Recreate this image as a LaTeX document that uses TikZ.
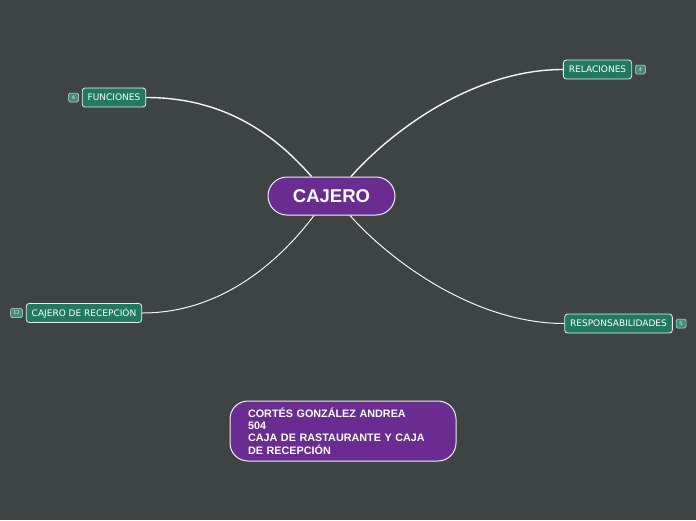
\documentclass[tikz,border=0pt]{standalone}
\usepackage{fontspec}
\setmainfont{Liberation Sans}
\newfontfamily\ramafont{DejaVu Sans}
\usetikzlibrary{positioning}
\definecolor{fondo}{HTML}{3D4443}
\definecolor{verde}{HTML}{217A5F}
\definecolor{morado}{HTML}{6A2C91}
\tikzset{
	rama/.style={draw=white!85!gray, fill=verde, rounded corners=3pt, line width=0.8pt, inner ysep=0pt, inner xsep=5.5pt, minimum height=19pt, text=white, font=\ramafont\fontsize{9}{9}\selectfont},
	contador/.style={draw=white!70!gray, fill=verde!85!white, rounded corners=1.5pt, line width=0.5pt, minimum height=9pt, minimum width=10pt, inner sep=1pt, text=white!85!verde, font=\ramafont\fontsize{5}{5}\selectfont},
	enlace/.style={white!92!gray, line width=1.4pt},
	enlacefino/.style={white!92!gray, line width=1pt},
}
\begin{document}
\begin{tikzpicture}[x=1pt,y=-1pt]
		\fill[fondo] (0,0) rectangle (696,520);
		\useasboundingbox (0,0) rectangle (696,520);
		% nodos
		\node[draw=white!90!gray, fill=morado, line width=1pt, rounded corners=19pt, minimum width=127pt, minimum height=38pt, text=white, font=\bfseries\fontsize{18.5}{18.5}\selectfont] (cajero) at (331.5,196) {CAJERO};
		\node[rama] (funciones) at (114,97.5) {FUNCIONES};
		\node[rama] (relaciones) at (597.5,69.5) {RELACIONES};
		\node[rama] (recepcion) at (84,313) {CAJERO DE RECEPCIÓN};
		\node[rama] (responsabilidades) at (618.5,323.5) {RESPONSABILIDADES};
		\node[contador, left=3pt of funciones] (nfunciones) {4};
		\node[contador, right=3pt of relaciones] (nrelaciones) {4};
		\node[contador, minimum width=12pt, left=3pt of recepcion] (nrecepcion) {12};
		\node[contador, right=3pt of responsabilidades] (nresponsabilidades) {5};
		% ramas
		\draw[enlace] (funciones.east) .. controls +(80,0) and +(-35,-40) .. ([xshift=-20pt]cajero.north);
		\draw[enlace] (relaciones.west) .. controls +(-90,0) and +(40,-45) .. ([xshift=19.5pt]cajero.north);
		\draw[enlacefino] (recepcion.east) .. controls +(80,0) and +(-34,45) .. ([xshift=-17.5pt]cajero.south);
		\draw[enlacefino] (responsabilidades.west) .. controls +(-90,0) and +(40,45) .. ([xshift=18.5pt]cajero.south);
		% autor
		\node[draw=white!90!gray, fill=morado, line width=1pt, rounded corners=18pt, minimum height=60pt, text width=190pt, inner xsep=18pt, align=left, text=white, font=\bfseries\fontsize{10.8}{12.4}\selectfont] (autor) at (343,431) {CORTÉS GONZÁLEZ ANDREA\\504\\CAJA DE RASTAURANTE Y CAJA\\DE RECEPCIÓN};
	\end{tikzpicture}
\end{document}
